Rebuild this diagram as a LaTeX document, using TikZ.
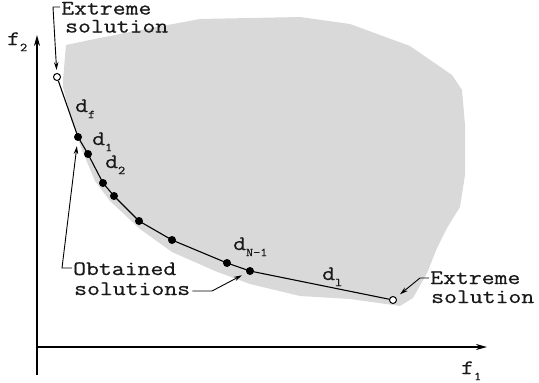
\documentclass[tikz,border=0pt]{standalone}
\usepackage{fontspec}
\usepackage{graphicx}
\setmonofont{Latin Modern Mono}[FakeBold=0.6]
\usetikzlibrary{arrows.meta}
\newcommand\wtxt[1]{\scalebox{1.22}[1]{#1}}
\newcommand\lblsub[2]{\wtxt{#1}\raisebox{-0.3em}{\fontsize{12}{12}\selectfont\scalebox{1.15}[1]{#2}}}
\begin{document}
\begin{tikzpicture}[x=1pt,y=-1pt,
  lbl/.style={font=\ttfamily\fontsize{20.5}{20.5}\selectfont, anchor=base west, inner sep=0pt, text=black!90},
  dot/.style={circle, fill=black, inner sep=0pt, minimum size=8pt},
  odot/.style={circle, draw=black, fill=white, line width=1pt, inner sep=0pt, minimum size=7pt},
  axis/.style={line width=1.6pt, -{Stealth[length=11pt,width=6pt]}},
  ptr/.style={line width=0.9pt, -{Stealth[length=8pt,width=4.5pt]}},
  curve/.style={line width=1.1pt},
  region/.style={fill=black!15, draw=none}]
\useasboundingbox (0,0) rectangle (539,383);
% feasible region
\fill[region] (63,80) -- (66,45) -- (90,40) -- (130,32) -- (200,19) -- (300,17) -- (350,24)
  -- (410,46) -- (452,75) -- (462,90) -- (465,125) -- (465,175) -- (460,207) -- (447,228)
  -- (437,248) -- (427,273) -- (413,298) -- (400,306) -- (350,299) -- (300,296) -- (250,284)
  -- (215,271) -- (172,252) -- (140,229) -- (110,201) -- (95,181) -- (82,150) -- (72,122)
  -- (63,87) -- cycle;
% axes
\coordinate (O) at (37,347);
\coordinate (Y) at (37,35);
\coordinate (X) at (487,347);
\draw[axis] (37,375) -- (Y);
\draw[axis] (O) -- (X);
\node[lbl] (f2) at (7,45) {\lblsub{f}{2}};
\node[lbl] (f1) at (461,374) {\lblsub{f}{1}};
% front
\node[odot] (E1) at (57,77) {};
\node[dot] (P1) at (78,137) {};
\node[dot] (P2) at (88,154) {};
\node[dot] (P3) at (103,183) {};
\node[dot] (P4) at (114,196) {};
\node[dot] (P5) at (139,221) {};
\node[dot] (P6) at (172,240) {};
\node[dot] (P7) at (227,263) {};
\node[dot] (P8) at (250,271) {};
\node[odot] (E2) at (393,300) {};
\draw[curve] (E1) -- (P1.center) -- (P2.center) -- (P3.center) -- (P4.center) -- (P5.center)
  -- (P6.center) -- (P7.center) -- (P8.center) -- (E2);
% distance labels
\node[lbl] (df) at (75,112) {\lblsub{d}{f}};
\node[lbl] (d1) at (92,145) {\lblsub{d}{1}};
\node[lbl] (d2) at (105,168) {\lblsub{d}{2}};
\node[lbl] (dn) at (233,250) {\lblsub{d}{N-1}};
\node[lbl] (dl) at (322,280) {\lblsub{d}{l}};
% texts
\node[lbl] (ex1a) at (61,14.5) {\wtxt{Extreme}};
\node[lbl] (ex1b) at (65,32.5) {\wtxt{solution}};
\node[lbl] (oba) at (73,275) {\wtxt{Obtained}};
\node[lbl] (obb) at (74,295) {\wtxt{solutions}};
\node[lbl] (ex2a) at (430,284) {\wtxt{Extreme}};
\node[lbl] (ex2b) at (431,303) {\wtxt{solution}};
% pointers
\coordinate (a1) at (53,7);
\draw[ptr, shorten >=3pt] ([xshift=-1pt]ex1a.west |- 0,7) -- (a1) -- (E1);
\coordinate (a2) at (62,268);
\draw[ptr, shorten >=5pt] ([xshift=-1pt]oba.west |- 0,268) -- (a2) -- (P1);
\coordinate (a3) at (212,291);
\draw[ptr, shorten >=5pt] ([xshift=2pt]obb.east |- 0,291) -- (a3) -- (P8);
\coordinate (a4) at (420,278);
\draw[ptr, shorten >=5pt] ([xshift=-1pt]ex2a.west |- 0,278) -- (a4) -- (E2);
\end{tikzpicture}
\end{document}
